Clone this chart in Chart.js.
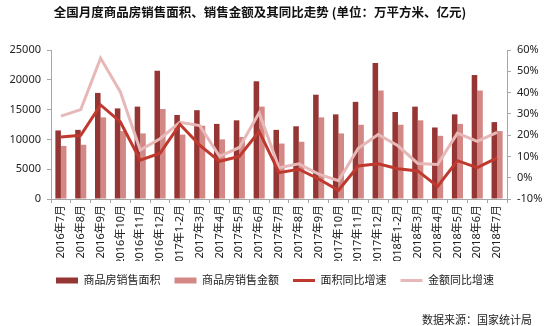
<!DOCTYPE html>
<html>
<head>
<meta charset="utf-8">
<script src="https://cdn.jsdelivr.net/npm/chart.js@4.4.1/dist/chart.umd.min.js"></script>
<style>
  html, body { margin: 0; padding: 0; background: #fff; }
  #wrap { position: relative; width: 550px; height: 326px; }
  #title { position: absolute; left: 0; width: 520px; top: 2px; line-height: 16px; text-align: center;
           font: bold 12.5px "Noto Sans CJK SC", sans-serif; color: #111; white-space: nowrap; }
  #source { position: absolute; right: 18px; top: 311px; line-height: 16px;
            font: 11px "Noto Sans CJK SC", sans-serif; color: #222; }
</style>
</head>
<body>
<div id="wrap">
  <canvas id="chart" width="550" height="326"></canvas>
  <div id="title">全国月度商品房销售面积、销售金额及其同比走势 (单位：万平方米、亿元)</div>
  <div id="source">数据来源：国家统计局</div>
</div>
<script>
// Data
const months = ['2016年7月', '2016年8月', '2016年9月', '2016年10月', '2016年11月', '2016年12月',
  '2017年1-2月', '2017年3月', '2017年4月', '2017年5月', '2017年6月', '2017年7月', '2017年8月',
  '2017年9月', '2017年10月', '2017年11月', '2017年12月', '2018年1-2月', '2018年3月', '2018年4月',
  '2018年5月', '2018年6月', '2018年7月'];

// 商品房销售面积 (万平方米)
const areaValues = [11500, 11600, 17800, 15200, 15500, 21500, 14100, 14900, 12600, 13200, 19750,
  11600, 12200, 17500, 14200, 16300, 22800, 14600, 15500, 12000, 14200, 20800, 12900];
// 商品房销售金额 (亿元)
const salesValues = [8900, 9100, 13700, 11400, 11000, 15100, 10800, 12300, 10000, 10400, 15500,
  9300, 9600, 13700, 11000, 12450, 18200, 12450, 13200, 10600, 12600, 18200, 11400];
// 面积同比增速 (%)
const areaGrowth = [19.1, 19.9, 34.2, 26.2, 8.2, 11.5, 25.1, 15.3, 7.7, 10.0, 21.8, 2.4, 4.0,
  -0.6, -5.9, 5.5, 6.5, 4.2, 3.2, -4.1, 8.0, 4.7, 9.3];
// 金额同比增速 (%)
const salesGrowth = [28.9, 32.0, 56.2, 40.3, 13.0, 18.3, 26.0, 24.5, 10.0, 14.2, 30.5, 4.7, 6.5,
  1.7, -1.4, 13.8, 20.3, 15.0, 6.7, 6.2, 20.9, 17.1, 21.3];

// Axis ticks
const leftTicks = [0, 5000, 10000, 15000, 20000, 25000];
const rightTicks = [-10, 0, 10, 20, 30, 40, 50, 60];

Chart.defaults.font.family = '"Noto Sans", "Noto Sans CJK SC", sans-serif';
Chart.defaults.font.size = 11;
Chart.defaults.color = '#222';

const axisColor = '#a6a6a6';

new Chart(document.getElementById('chart').getContext('2d'), {
  type: 'bar',
  data: {
    labels: months,
    datasets: [
      {
        type: 'bar', label: '商品房销售面积', data: areaValues, yAxisID: 'y',
        backgroundColor: '#963634', borderWidth: 0,
        barPercentage: 1, categoryPercentage: 0.56, order: 2
      },
      {
        type: 'bar', label: '商品房销售金额', data: salesValues, yAxisID: 'y',
        backgroundColor: '#d38886', borderWidth: 0,
        barPercentage: 1, categoryPercentage: 0.56, order: 2
      },
      {
        type: 'line', label: '面积同比增速', data: areaGrowth, yAxisID: 'y1',
        borderColor: '#c0392f', backgroundColor: '#c0392f', borderWidth: 3,
        pointRadius: 0, tension: 0, order: 0
      },
      {
        type: 'line', label: '金额同比增速', data: salesGrowth, yAxisID: 'y1',
        borderColor: '#e6b9b8', backgroundColor: '#e6b9b8', borderWidth: 3,
        pointRadius: 0, tension: 0, order: 1
      }
    ]
  },
  options: {
    responsive: false,
    animation: false,
    layout: { padding: { top: 50, bottom: 30, left: 0, right: 0 } },
    scales: {
      x: {
        grid: { drawOnChartArea: false, tickLength: 4, color: axisColor, offset: true },
        border: { color: axisColor },
        ticks: { autoSkip: false, maxRotation: 90, minRotation: 90, padding: 2, color: '#222' },
        afterFit(s) { s.height = 62; }
      },
      y: {
        position: 'left',
        min: leftTicks[0], max: leftTicks[leftTicks.length - 1],
        afterBuildTicks(s) { s.ticks = leftTicks.map(v => ({ value: v })); },
        grid: { drawOnChartArea: false, tickLength: 4, color: axisColor },
        border: { color: axisColor },
        ticks: { padding: 6, color: '#222', callback: v => String(v) },
        afterFit(s) { s.width = 51; }
      },
      y1: {
        position: 'right',
        min: rightTicks[0], max: rightTicks[rightTicks.length - 1],
        afterBuildTicks(s) { s.ticks = rightTicks.map(v => ({ value: v })); },
        grid: { drawOnChartArea: false, tickLength: 4, color: axisColor },
        border: { color: axisColor },
        ticks: { padding: 6, color: '#222', callback: v => v + '%' },
        afterFit(s) { s.width = 43; }
      }
    },
    plugins: {
      tooltip: { enabled: false },
      legend: {
        position: 'bottom',
        labels: {
          usePointStyle: true,
          pointStyleWidth: 22,
          boxHeight: 6,
          padding: 14,
          color: '#222',
          sort: (a, b) => a.datasetIndex - b.datasetIndex,
          generateLabels(chart) {
            const items = Chart.defaults.plugins.legend.labels.generateLabels(chart);
            items.forEach(it => {
              const ds = chart.data.datasets[it.datasetIndex];
              if (ds.type === 'line') {
                it.pointStyle = 'line';
                it.strokeStyle = ds.borderColor;
                it.lineWidth = 3;
              } else {
                it.pointStyle = 'rect';
                it.fillStyle = ds.backgroundColor;
                it.strokeStyle = ds.backgroundColor;
                it.lineWidth = 0;
              }
            });
            return items;
          }
        }
      }
    }
  }
});
</script>
</body>
</html>
